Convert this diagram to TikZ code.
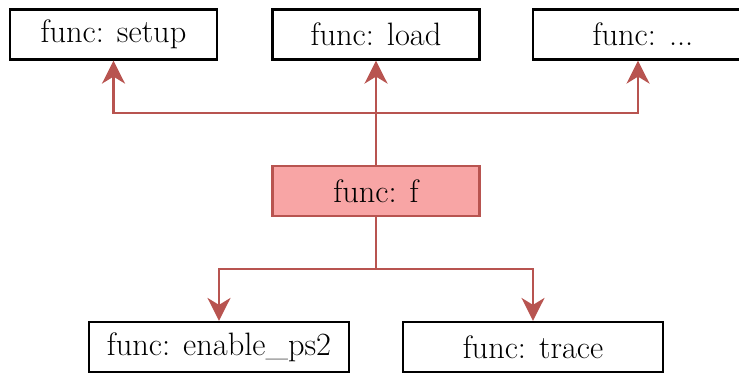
\documentclass[tikz,border=0pt]{standalone}
\usetikzlibrary{arrows.meta,positioning}
\definecolor{callred}{RGB}{184,84,80}
\definecolor{callfill}{RGB}{248,165,165}
\tikzstyle{func} = [draw=black, line width=1.1pt, fill=white, inner sep=0pt, minimum width=103.5pt, minimum height=25pt]
\tikzstyle{wide func} = [func, minimum width=130pt]
\tikzstyle{link} = [draw=callred, line width=1.1pt]
\tikzstyle{call} = [link, -{Stealth[length=11.5pt,width=11.5pt,inset=3.5pt]}]

\begin{document}
\begin{tikzpicture}[x=0.5pt, y=-0.5pt, font=\fontsize{16.2}{19}\selectfont]
    \useasboundingbox (0,0) rectangle (739,375);

    \node[func] (setup) at (113.5,34.5) {func: setup};
    \node[func] (load) at (376,34.5) {func: load};
    \node[func, minimum width=110pt] (more) at (643,34.5) {func: ...};

    \node[func, draw=callred, fill=callfill] (f) at (376,191) {func: f};

    \node[wide func] (ps2) at (219,347) {func: enable\_ps2};
    \node[wide func] (trace) at (533,347) {func: trace};

    \coordinate (up) at (376,113);
    \coordinate (down) at (376,269);

    \draw[link] (f.north) -- (up);
    \draw[call] (up) -| (setup.south);
    \draw[call] (up) -- (load.south);
    \draw[call] (up) -| ([xshift=-2.5pt]more.south);

    \draw[link] (f.south) -- (down);
    \draw[call] (down) -| (ps2.north);
    \draw[call] (down) -| (trace.north);
\end{tikzpicture}
\end{document}
